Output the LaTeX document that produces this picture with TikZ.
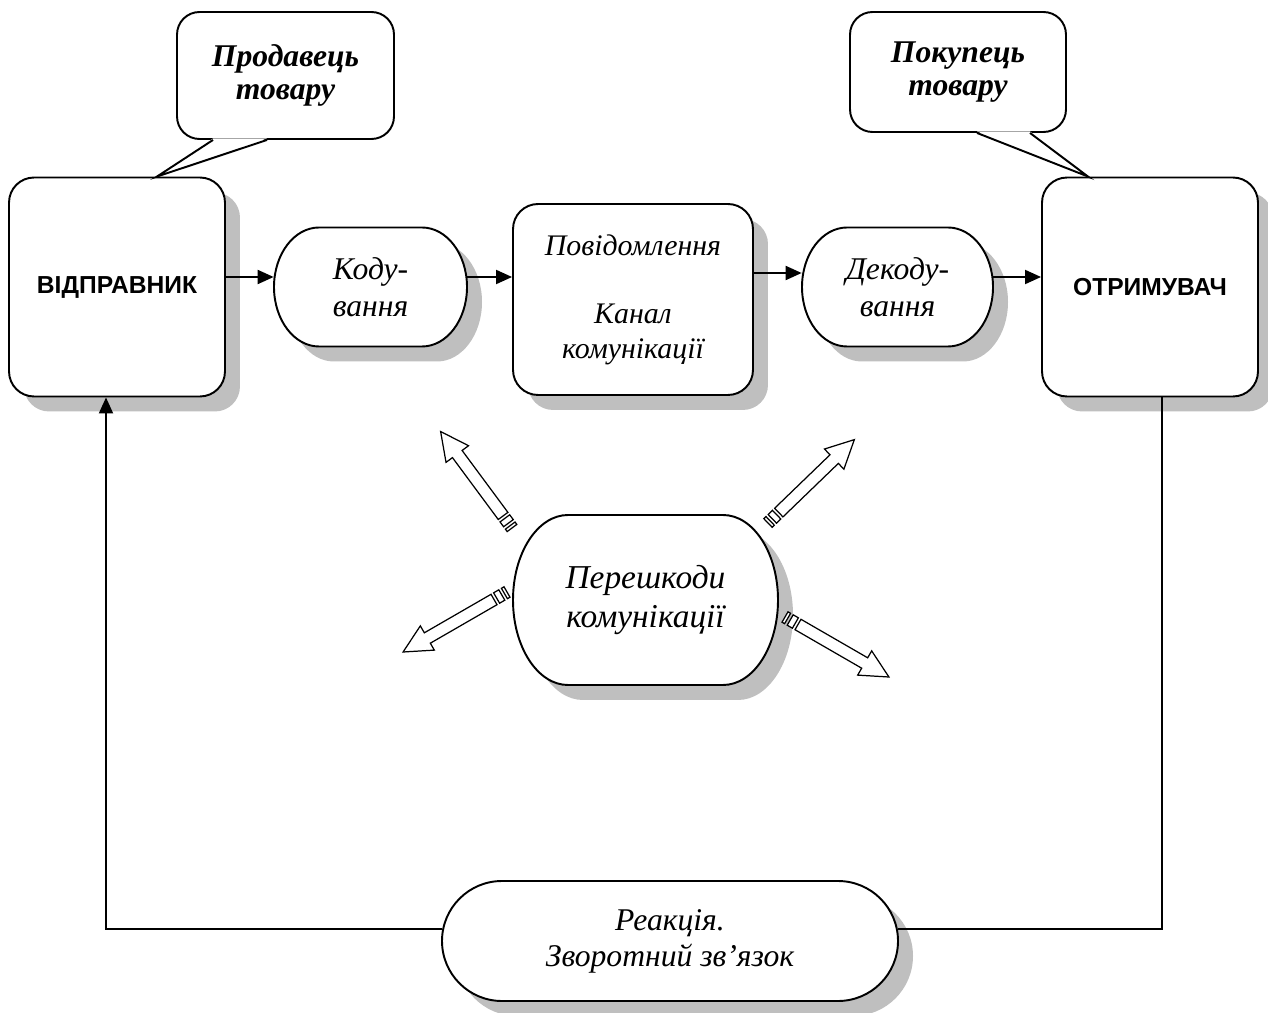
\documentclass[tikz,border=0pt]{standalone}
\usepackage{fontspec}
\setmainfont{Liberation Serif}
\newfontfamily\capsfont{Liberation Sans}
\usetikzlibrary{arrows.meta, shadows, calc}

\tikzset{
  flow/.style={line width=1.1pt, -{Triangle[length=0.32cm,width=0.28cm]}},
  shade box/.style={drop shadow={shadow xshift=0.3cm, shadow yshift=-0.3cm, fill=gray!50, opacity=1}},
  party/.style={draw, line width=1.1pt, fill=white, rounded corners=0.5cm, shade box,
    minimum width=4.32cm, minimum height=4.38cm, font=\capsfont\bfseries\fontsize{14}{16}\selectfont},
  msgbox/.style={draw, line width=1.1pt, fill=white, rounded corners=0.5cm, shade box, align=center,
    minimum width=4.8cm, minimum height=3.82cm, font=\itshape\fontsize{17}{19.5}\selectfont},
  termline/.style={draw, line width=1.1pt, fill=white, shade box},
  termtext/.style={align=center, inner sep=0pt, font=\itshape\fontsize{18}{21}\selectfont},
  note/.style={draw, line width=1.1pt, fill=white, rounded corners=0.45cm, align=center,
    font=\bfseries\itshape\fontsize{18}{19}\selectfont},
  noise/.style={draw, line width=0.7pt, fill=white}
}

% stadium shape with elliptic ends: [text style]{name}{centre}{width}{height}{end radius}{text}
\newcommand{\termshape}[7][]{%
  \draw[termline] #3 ++({-#4/2+#6},{#5/2}) -- ++({#4-2*#6},0)
    arc[start angle=90, end angle=-90, x radius=#6, y radius=#5/2]
    -- ++({-#4+2*#6},0)
    arc[start angle=270, end angle=90, x radius=#6, y radius=#5/2] -- cycle;
  \node[termtext, #1, minimum width=#4*0.02cm, minimum height=#5*0.02cm] (#2) at #3 {#7};}

% striped hollow arrow: {tail}{angle}
\newcommand{\noisearrow}[2]{%
  \begin{scope}[shift={#1}, rotate=#2]
    \draw[noise] (0,-6) rectangle (3,6) (6,-6) rectangle (12,6)
      (15,-6) -- (92,-6) -- (92,-14) -- (120,0) -- (92,14) -- (92,6) -- (15,6) -- cycle;
  \end{scope}}

\begin{document}
\begin{tikzpicture}[x=0.02cm, y=0.02cm]
  \useasboundingbox (0,0) rectangle (1268,1012);

  % sender and receiver
  \node[party] (sender) at (117,725) {ВІДПРАВНИК};
  \node[party] (receiver) at (1150,725) {ОТРИМУВАЧ};

  % coding, channel, decoding
  \termshape{kod}{(370.5,725)}{193}{119}{45}{Коду-\\вання}
  \node[msgbox] (msg) at (633,712.5) {Повідомлення\\[19.5pt]Канал\\комунікації};
  \termshape{decod}{(897.5,725)}{191}{119}{45}{Декоду-\\вання}

  % noise and feedback
  \termshape[font=\itshape\fontsize{19}{22.5}\selectfont]{hinder}{(645.5,412)}{265}{170}{55}{Перешкоди\\комунікації}
  \termshape[font=\itshape\fontsize{18}{20.5}\selectfont]{react}{(670,71)}{456}{120}{60}{Реакція.\\Зворотний зв’язок}

  % callouts
  \node[note, minimum width=4.34cm, minimum height=2.54cm] (sellnote) at (285.5,936.5) {Продавець\\товару};
  \node[note, minimum width=4.32cm, minimum height=2.4cm] (buynote) at (958,940) {Покупець\\товару};
  \coordinate (selltip) at ([xshift=0.8cm]sender.north);
  \coordinate (buytip) at ([xshift=-1.24cm]receiver.north);
  \fill[white] ([xshift=-1.45cm,yshift=0.03cm]sellnote.south) -- (selltip) -- ([xshift=-0.37cm,yshift=0.03cm]sellnote.south) -- cycle;
  \draw[line width=1.1pt] ([xshift=-1.45cm]sellnote.south) -- (selltip) -- ([xshift=-0.37cm]sellnote.south);
  \fill[white] ([xshift=0.38cm,yshift=0.03cm]buynote.south) -- (buytip) -- ([xshift=1.44cm,yshift=0.03cm]buynote.south) -- cycle;
  \draw[line width=1.1pt] ([xshift=0.38cm]buynote.south) -- (buytip) -- ([xshift=1.44cm]buynote.south);

  % main flow
  \draw[flow] ([yshift=0.2cm]sender.east) -- ([yshift=0.2cm]kod.west);
  \path ([yshift=0.2cm]kod.east) coordinate (k1) ([yshift=0.28cm]decod.west) coordinate (d1);
  \draw[flow] (k1) -- (k1 -| msg.west);
  \draw[flow] (d1 -| msg.east) -- (d1);
  \draw[flow] ([yshift=0.2cm]decod.east) -- ([yshift=0.2cm]receiver.west);

  % feedback loop
  \draw[line width=1.1pt] ([xshift=0.24cm]receiver.south) |- ([yshift=0.24cm]react.east);
  \draw[flow] ([yshift=0.24cm]react.west) -| ([xshift=-0.22cm]sender.south);

  % noise arrows
  \noisearrow{(512,484)}{126.5}
  \noisearrow{(768,489)}{44}
  \noisearrow{(507,420)}{210}
  \noisearrow{(785,395)}{-30}
\end{tikzpicture}
\end{document}
